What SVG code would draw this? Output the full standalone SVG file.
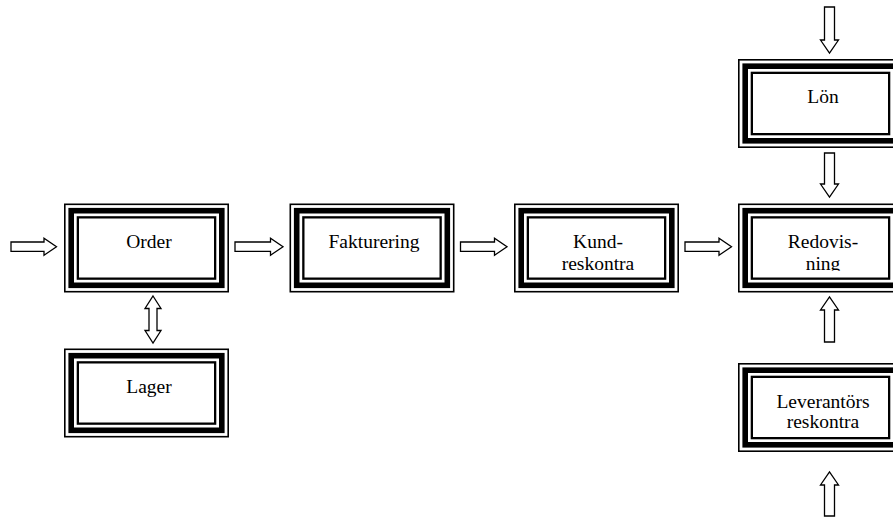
<svg xmlns="http://www.w3.org/2000/svg" width="893" height="518" viewBox="0 0 893 518">
  <style>
    .bg { fill: #ffffff; }
    .o { fill: none; stroke: #000; stroke-width: 1.6; }
    .k { fill: none; stroke: #000; stroke-width: 5.6; }
    .t { fill: #fff; stroke: #000; stroke-width: 2.3; }
    .lbl { font-family: "Liberation Serif", "Times New Roman", serif; font-size: 19.5px; fill: #000; text-anchor: middle; }
    .arr { fill: #fff; stroke: #000; stroke-width: 1.3; stroke-linejoin: miter; }
  </style>
  <defs>
    <!-- triple frame: thin outer line, thick band, thin inner line -->
    <g id="frame">
      <rect class="o" x="0.8" y="0.8" width="163.4" height="87.4"/>
      <rect class="k" x="7.2" y="7.2" width="150.6" height="74.6"/>
      <rect class="t" x="13.85" y="13.85" width="137.3" height="61.3"/>
    </g>
    <!-- the Redovisning label box cuts its second line short -->
    <clipPath id="redovClip">
      <rect x="738" y="200" width="170" height="70.8"/>
    </clipPath>
  </defs>

  <rect class="bg" x="0" y="0" width="893" height="518"/>

  <g id="order">
    <use href="#frame" x="64" y="203.5"/>
    <text class="lbl" x="149" y="247.5">Order</text>
  </g>

  <g id="fakturering">
    <use href="#frame" x="289.5" y="203.5"/>
    <text class="lbl" x="374" y="247.5">Fakturering</text>
  </g>

  <g id="kundreskontra">
    <use href="#frame" x="514" y="203.5"/>
    <text class="lbl" x="598" y="247.5">Kund-</text>
    <text class="lbl" x="598" y="269.5">reskontra</text>
  </g>

  <g id="redovisning">
    <use href="#frame" x="738" y="203.5"/>
    <g clip-path="url(#redovClip)">
      <text class="lbl" x="823" y="247.5">Redovis-</text>
      <text class="lbl" x="823" y="269.5">ning</text>
    </g>
  </g>

  <g id="lon">
    <use href="#frame" x="738" y="59"/>
    <text class="lbl" x="823" y="103.3">Lön</text>
  </g>

  <g id="lager">
    <use href="#frame" x="64" y="348.5"/>
    <text class="lbl" x="149" y="392.5">Lager</text>
  </g>

  <g id="leverantorsreskontra">
    <use href="#frame" x="738" y="363"/>
    <text class="lbl" x="823" y="407.5">Leverantörs</text>
    <text class="lbl" x="823" y="428">reskontra</text>
  </g>

  <g id="connectors">
    <!-- horizontal block arrows -->
    <path class="arr" d="M11,242 H44 V238.2 L56.5,246.7 L44,255.2 V251.4 H11 Z"/>
    <path class="arr" d="M235,242 H270.5 V238.2 L283,246.7 L270.5,255.2 V251.4 H235 Z"/>
    <path class="arr" d="M460.5,242 H494.5 V238.2 L507,246.7 L494.5,255.2 V251.4 H460.5 Z"/>
    <path class="arr" d="M685,242 H719 V238.2 L731.5,246.7 L719,255.2 V251.4 H685 Z"/>
    <!-- downward block arrows into Lön and Redovisning -->
    <path class="arr" d="M824.5,7 H834.5 V40 H838.5 L829.5,53 L820.5,40 H824.5 Z"/>
    <path class="arr" d="M824.5,153 H834.5 V184 H838.5 L829.5,197 L820.5,184 H824.5 Z"/>
    <!-- upward block arrows into Redovisning and Leverantörs reskontra -->
    <path class="arr" d="M824.5,342 H834.5 V310 H838.5 L829.5,297 L820.5,310 H824.5 Z"/>
    <path class="arr" d="M824.5,516 H834.5 V485 H838.5 L829.5,472 L820.5,485 H824.5 Z"/>
    <!-- two-way arrow between Order and Lager -->
    <path class="arr" d="M153,296 L161,308.5 H157 V330.5 H161 L153,343 L145,330.5 H149 V308.5 H145 Z"/>
  </g>
</svg>
